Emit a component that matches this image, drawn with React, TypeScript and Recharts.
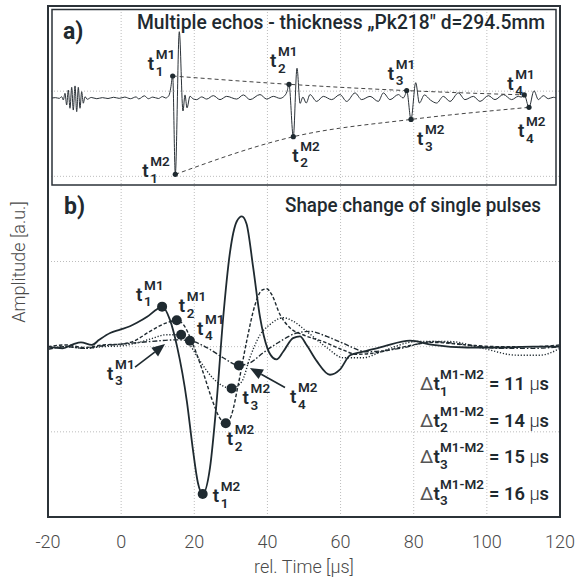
import React from "react";
import { ComposedChart, LineChart, Line, XAxis, YAxis, CartesianGrid, ReferenceLine } from "recharts";

type Pt = [number, number, string?];

const FONT = "Roboto, 'Open Sans', sans-serif";
const INK = "#1f2a30";

// panel b axes (rel. time in µs, amplitude in grid units)
const xTicks = [-20, 0, 20, 40, 60, 80, 100, 120];
const gridRows = [-2, -1, 0, 1, 2, 3, 4];

// panel a axes (overview, arbitrary divisions)
const echoTicksX = [1, 2, 3, 4, 5, 6, 7, 8];
const echoTicksY = [-4, -3, -2, -1, 0, 1, 2, 3, 4];

// panel a: full A-scan with four back-wall echoes
const echo: Pt[] = [
  [0, 0], [0.06, 0.02], [0.13, -0.02], [0.173, 0.07], [0.202, -0.11], [0.232, 0.26],
  [0.262, -0.39], [0.291, 0.44], [0.321, -0.57], [0.352, 0.59], [0.38, -0.67], [0.411, 0.67],
  [0.441, -0.76], [0.47, 0.59], [0.5, -0.57], [0.53, 0.35], [0.559, -0.29], [0.589, 0.07],
  [0.63, -0.07], [0.7, 0.03], [0.8, -0.04], [0.9, 0.02], [1.0, -0.03], [1.1, 0.04],
  [1.2, -0.02], [1.3, 0.05], [1.4, -0.04], [1.5, 0.06], [1.55, -0.05], [1.65, 0.12],
  [1.72, -0.04], [1.8, 0.05], [1.9, -0.03], [1.97, 0.08], [2.03, 0.0], [2.09, 0.15],
  [2.12, 0.55], [2.155, 1.22, "1M1"], [2.202, -4.24, "1M2"], [2.273, 3.68], [2.339, -0.72],
  [2.375, 0.17], [2.411, -0.55], [2.464, 0.1], [2.52, -0.05], [2.583, -0.09], [2.673, 0.06],
  [2.762, -0.06], [2.881, 0.13], [3.0, -0.09], [3.119, 0.09], [3.298, -0.06], [3.417, 0.17],
  [3.536, -0.09], [3.714, 0.19], [3.833, -0.06], [3.952, 0.09], [4.071, -0.02], [4.14, 0.08],
  [4.196, 0.35], [4.232, 0.76, "2M1"], [4.309, -2.15, "2M2"], [4.375, 1.65], [4.43, -0.3],
  [4.48, 0.05], [4.54, -0.28], [4.607, 0.19], [4.726, -0.19], [4.845, 0.09], [4.994, -0.09],
  [5.143, 0.19], [5.262, -0.19], [5.411, 0.28], [5.53, -0.09], [5.679, 0.09], [5.827, -0.19],
  [5.917, 0.28], [6.036, -0.09], [6.185, 0.19], [6.27, 0.0], [6.31, 0.2], [6.334, 0.41, "3M1"],
  [6.411, -1.19, "3M2"], [6.495, 0.85], [6.56, -0.28], [6.65, 0.17], [6.76, -0.12], [6.869, -0.28],
  [6.988, 0.09], [7.107, -0.19], [7.256, 0.28], [7.375, -0.09], [7.524, 0.09], [7.643, -0.19],
  [7.792, 0.13], [7.911, -0.09], [8.06, 0.19], [8.208, -0.09], [8.327, 0.09], [8.38, 0.05],
  [8.434, 0.17, "4M1"], [8.518, -0.52, "4M2"], [8.607, 0.4], [8.685, -0.09], [8.774, 0.13],
  [8.863, -0.04], [8.952, 0.04], [9, 0],
];

// panel b: the four single pulses overlaid
const pulse1: Pt[] = [
  [-20, 0.0], [-16, -0.02], [-13, 0.03], [-11, 0.05], [-8, 0.02], [-6, 0.08], [-3, 0.16],
  [-0.3, 0.2], [2.4, 0.24], [4.3, 0.28], [7.1, 0.35], [9.8, 0.44], [11.2, 0.47, "M1"],
  [13.3, 0.32], [15.3, 0.0], [18.0, -0.65], [19.6, -1.2], [21.0, -1.6], [22.3, -1.73, "M2"],
  [24.3, -1.42], [26.1, -0.65], [27.9, 0.34], [29.8, 1.12], [31.6, 1.47], [33.0, 1.53],
  [34.3, 1.44], [36.1, 0.93], [38.0, 0.34], [40.0, -0.02], [41.5, -0.13], [42.5, -0.15],
  [44.3, -0.06], [47.0, 0.1], [48.9, 0.12], [50.7, 0.02], [53.5, -0.17], [57.1, -0.33],
  [59.8, -0.27], [62.6, -0.1], [67.1, -0.05], [71.6, 0.0], [79.0, 0.07], [85.3, 0.02],
  [94.6, -0.01], [103.6, -0.01], [112.6, 0.0], [120, 0.0],
];
const pulse2: Pt[] = [
  [-20, 0.0], [-15, 0.02], [-10, -0.01], [-5, 0.02], [0, 0.03], [3.2, 0.06], [7.9, 0.18],
  [12.4, 0.28], [15.2, 0.31, "M1"], [17, 0.26], [19.7, 0.02], [22.4, -0.3], [25.1, -0.65],
  [27, -0.84], [28.6, -0.9, "M2"], [30.2, -0.8], [32, -0.45], [34.3, 0.06], [36.6, 0.49],
  [38.4, 0.66], [39.8, 0.68], [41.2, 0.61], [43.4, 0.38], [46.2, 0.22], [49.7, 0.14],
  [55.2, 0.06], [60.7, -0.04], [64.4, -0.09], [69.9, -0.07], [76.3, -0.01], [85.3, 0.05],
  [94.6, 0.02], [103.6, 0.0], [112.6, 0.0], [120, 0.02],
];
const pulse3: Pt[] = [
  [-20, -0.02], [-15, 0.0], [-10, -0.02], [-5, 0.0], [0, 0.01], [4, 0.04], [8, 0.09],
  [12.4, 0.14], [16.4, 0.14, "M1"], [18.8, 0.02], [21.6, -0.17], [25.1, -0.37],
  [30.2, -0.49, "M2"], [33, -0.41], [35.2, -0.13], [38, 0.14], [40.7, 0.26], [44.3, 0.34],
  [47, 0.3], [50.7, 0.18], [56.2, -0.01], [60.7, -0.13], [66.1, -0.13], [71.6, -0.05],
  [80.8, 0.06], [89.9, 0.06], [98.9, -0.02], [108.2, -0.1], [114.5, -0.1], [120, -0.02],
];
const pulse4: Pt[] = [
  [-20, -0.03], [-15, 0.0], [-10, -0.02], [-5, 0.01], [0, 0.03], [7.9, 0.06], [15.2, 0.08],
  [18.8, 0.07, "M1"], [23.4, -0.01], [27.9, -0.13], [32.2, -0.22, "M2"], [35.2, -0.19],
  [38.9, -0.07], [43.4, 0.06], [48, 0.16], [51.6, 0.18], [56.2, 0.12], [60.7, 0.04],
  [67.1, -0.06], [76.3, -0.02], [85.3, 0.06], [94.6, 0.02], [103.6, -0.02], [112.6, -0.02],
  [120, 0.0],
];

const deltas = [
  { n: "1", us: "11" },
  { n: "2", us: "14" },
  { n: "3", us: "15" },
  { n: "3", us: "16" },
];

const arrows = [
  { from: { x: 3.8, y: -0.24 }, to: { x: 12.0, y: 0.03 } },
  { from: { x: 44.8, y: -0.48 }, to: { x: 35.2, y: -0.25 } },
];

// label placement relative to each marked point (px)
const OFFSET_B: Record<string, [number, number]> = {
  "1M1": [-26, -6], "2M1": [2, -8], "3M1": [-74, 45], "4M1": [7, -6],
  "1M2": [10, 8], "2M2": [1, 22], "3M2": [11, 16], "4M2": [51, 38],
};
const OFFSET_A: Record<string, [number, number]> = {
  "1M1": [-25, -6], "2M1": [-19, -17], "3M1": [-19, -11], "4M1": [-17, -5],
  "1M2": [-33, 3], "2M2": [-1, 25], "3M2": [6, 26], "4M2": [-11, 30],
};

const rows = (pts: Pt[]) => pts.map(([t, v, m]) => ({ t, v, m }));
const echoRows = rows(echo);
const upperEnv = echoRows.filter((r) => r.m && r.m.endsWith("M1"));
const lowerEnv = echoRows.filter((r) => r.m && r.m.endsWith("M2"));

// t with stacked superscript / subscript, kept in one text element
function TLabel({ x, y, n, m }: { x: number; y: number; n: string; m: string }) {
  return (
    <text x={x} y={y} fontFamily={FONT} fill={INK} fontWeight={600} fontSize={19}>
      t
      <tspan x={x + 8} dy={-11} fontSize={13.5}>{m}</tspan>
      <tspan x={x + 8} dy={16.5} fontSize={13.5}>{n}</tspan>
    </text>
  );
}

const pulseDot = (pulse: number) => (props: any) => {
  const { cx, cy, payload, index } = props;
  const k = `p${pulse}-${index}`;
  if (!payload.m) return <g key={k} />;
  const [dx, dy] = OFFSET_B[`${pulse}${payload.m}`];
  return (
    <g key={k}>
      <circle cx={cx} cy={cy} r={5} fill={INK} />
      <TLabel x={cx + dx} y={cy + dy} n={String(pulse)} m={payload.m} />
    </g>
  );
};

const echoDot = (props: any) => {
  const { cx, cy, payload, index } = props;
  const [dx, dy] = OFFSET_A[payload.m];
  return (
    <g key={`e-${payload.m}-${index}`}>
      <circle cx={cx} cy={cy} r={2.6} fill={INK} />
      <TLabel x={cx + dx} y={cy + dy} n={payload.m[0]} m={payload.m.slice(1)} />
    </g>
  );
};

const arrowShape = (p: any) => {
  const { x1, y1, x2, y2 } = p;
  const a = Math.atan2(y2 - y1, x2 - x1);
  const L = 13;
  const W = 5.5;
  const bx = x2 - L * Math.cos(a);
  const by = y2 - L * Math.sin(a);
  const pts = [
    [x2, y2],
    [bx - W * Math.sin(a), by + W * Math.cos(a)],
    [bx + W * Math.sin(a), by - W * Math.cos(a)],
  ]
    .map((q) => q.join(","))
    .join(" ");
  return (
    <g>
      <line x1={x1} y1={y1} x2={bx} y2={by} stroke={INK} strokeWidth={1.6} />
      <polygon points={pts} fill={INK} />
    </g>
  );
};

const innerTick = { stroke: "#555", strokeWidth: 1 };

export default function App() {
  return (
    <div style={{ position: "absolute", left: 0, top: 0, width: 575, height: 579, background: "#fff" }}>
      <div style={{ position: "absolute", left: 0, top: 0 }}>
        <ComposedChart width={575} height={579} margin={{ top: 6, right: 15, bottom: 32, left: 48 }}>
          <CartesianGrid stroke="#bdbdbd" strokeDasharray="1 2" />
          <XAxis
            dataKey="t"
            type="number"
            domain={[-20, 120]}
            ticks={xTicks}
            interval={0}
            tickSize={0}
            tickMargin={18}
            axisLine={false}
            height={30}
            tick={{ fontSize: 18, fill: "#4a4a4a", fontFamily: FONT, fontWeight: 300 }}
          />
          <YAxis type="number" domain={[-2, 4]} ticks={gridRows} hide />
          <Line data={rows(pulse4)} dataKey="v" type="monotone" stroke={INK} strokeWidth={1.4}
            strokeDasharray="5 2 1.5 2" dot={pulseDot(4)} activeDot={false} isAnimationActive={false} />
          <Line data={rows(pulse3)} dataKey="v" type="monotone" stroke={INK} strokeWidth={1.4}
            strokeDasharray="1.2 1.8" dot={pulseDot(3)} activeDot={false} isAnimationActive={false} />
          <Line data={rows(pulse2)} dataKey="v" type="monotone" stroke={INK} strokeWidth={1.4}
            strokeDasharray="3.5 2" dot={pulseDot(2)} activeDot={false} isAnimationActive={false} />
          <Line data={rows(pulse1)} dataKey="v" type="monotone" stroke={INK} strokeWidth={1.8}
            dot={pulseDot(1)} activeDot={false} isAnimationActive={false} />
          {arrows.map((a, i) => (
            <ReferenceLine key={i} segment={[a.from, a.to]} ifOverflow="visible" shape={arrowShape} />
          ))}
        </ComposedChart>
      </div>

      <div style={{ position: "absolute", left: 52, top: 9 }}>
        <LineChart width={504} height={176} margin={{ top: 0, right: 0, bottom: 0, left: 0 }}>
          <XAxis dataKey="t" type="number" domain={[0, 9]} ticks={echoTicksX} mirror tick={false}
            tickSize={5} tickLine={innerTick} axisLine={false} height={0} />
          <YAxis type="number" domain={[-4.83, 4.94]} ticks={echoTicksY} mirror tick={false}
            tickSize={5} tickLine={innerTick} axisLine={false} width={0} />
          <YAxis yAxisId="r" orientation="right" type="number" domain={[-4.83, 4.94]} ticks={echoTicksY}
            mirror tick={false} tickSize={5} tickLine={innerTick} axisLine={false} width={0} />
          <Line data={echoRows} dataKey="v" type="monotone" stroke="#2b3238" strokeWidth={1}
            dot={false} activeDot={false} isAnimationActive={false} />
          <Line data={upperEnv} dataKey="v" type="monotone" stroke="#444" strokeWidth={1}
            strokeDasharray="4 3" dot={echoDot} activeDot={false} isAnimationActive={false} />
          <Line data={lowerEnv} dataKey="v" type="monotone" stroke="#444" strokeWidth={1}
            strokeDasharray="4 3" dot={echoDot} activeDot={false} isAnimationActive={false} />
        </LineChart>
      </div>

      <svg width={575} height={579} style={{ position: "absolute", left: 0, top: 0, pointerEvents: "none" }}>
        <rect x={48} y={6} width={512} height={511} fill="none" stroke="#2b3238" strokeWidth={2} />
        <rect x={52} y={9.5} width={504} height={175.5} fill="none" stroke="#2b3238" strokeWidth={1.5} />
        <g fontFamily={FONT} fill={INK}>
          <text x={63} y={39} fontSize={23} fontWeight={700}>a)</text>
          <text x={137} y={29} fontSize={19.5} fontWeight={500} textLength={408} lengthAdjust="spacingAndGlyphs">
            Multiple echos - thickness „Pk218" d=294.5mm
          </text>
          <text x={64} y={214} fontSize={23} fontWeight={700}>b)</text>
          <text x={285} y={212} fontSize={19.5} fontWeight={500} textLength={256} lengthAdjust="spacingAndGlyphs">
            Shape change of single pulses
          </text>
          {deltas.map((d, i) => {
            const y = 390 + i * 36.5;
            return (
              <g key={i}>
                <text x={420} y={y} fontSize={19} fontWeight={600}>
                  <tspan fontWeight={400} fill="#555">Δ</tspan>t
                  <tspan x={440} dy={-11} fontSize={13.5}>M1-M2</tspan>
                  <tspan x={440} dy={16.5} fontSize={13.5}>{d.n}</tspan>
                </text>
                <text x={489} y={y} fontSize={19} fontWeight={600} textLength={60} lengthAdjust="spacingAndGlyphs">
                  = {d.us} <tspan fontWeight={300}>µ</tspan>s
                </text>
              </g>
            );
          })}
        </g>
        <text x={25} y={262} transform="rotate(-90 25 262)" textAnchor="middle" fontFamily={FONT}
          fontSize={18} fontWeight={300} fill="#4a4a4a">
          Amplitude [a.u.]
        </text>
        <text x={304} y={573} textAnchor="middle" fontFamily={FONT} fontSize={18} fontWeight={300} fill="#4a4a4a">
          rel. Time [µs]
        </text>
      </svg>
    </div>
  );
}
